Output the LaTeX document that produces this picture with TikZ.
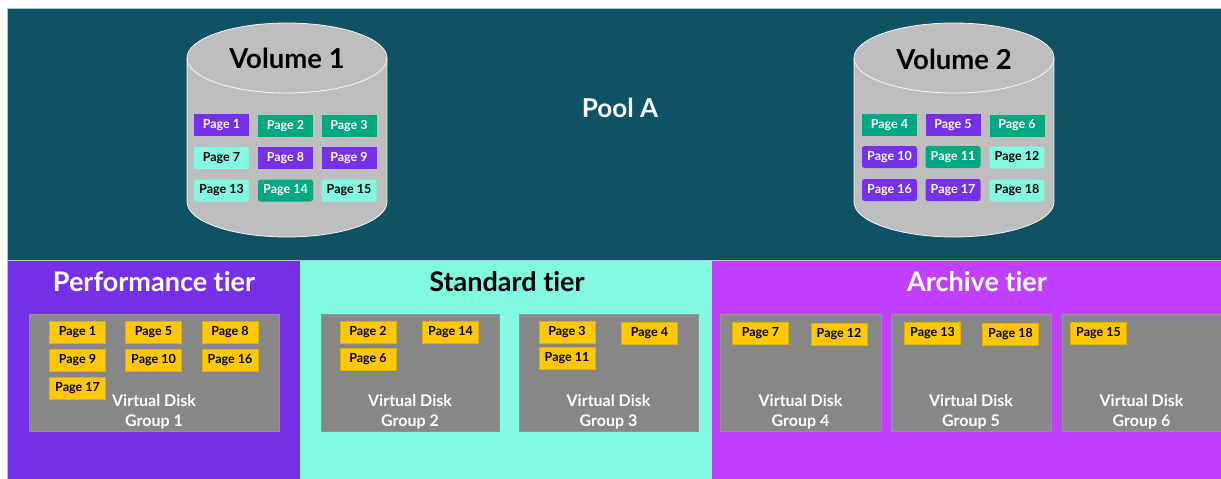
\documentclass[tikz,border=0pt]{standalone}
\usepackage{fontspec}
\setmainfont{Lato}[Ligatures=NoCommon]
\definecolor{poolteal}{HTML}{0E5265}
\definecolor{hpepurple}{HTML}{7630EA}
\definecolor{hpemint}{HTML}{82F9E1}
\definecolor{hpemagenta}{HTML}{C140FF}
\definecolor{hpegreen}{HTML}{01A982}
\definecolor{vdgray}{HTML}{878787}
\definecolor{cylgray}{HTML}{BEBEBE}
\definecolor{pageyellow}{HTML}{FFC800}
\definecolor{edgegray}{HTML}{B8C4C8}
\begin{document}
\begin{tikzpicture}[x=1pt,y=-1pt,
  fsz/.style={font=\bfseries\fontsize{#1}{#1}\selectfont},
  vpage/.style={minimum width=55pt, minimum height=22pt, inner sep=0pt, fsz=12.5},
  ppage/.style={vpage, fill=hpepurple, text=white},
  gpage/.style={vpage, fill=hpegreen, text=white},
  mpage/.style={vpage, fill=hpemint, text=black},
  rnd/.style={rounded corners=2.5pt},
  ypage/.style={minimum width=56pt, minimum height=22pt, inner sep=0pt, fsz=12.5,
    fill=pageyellow, draw=pageyellow!88!black, line width=0.4pt, text=black},
  vdg/.style={minimum height=117pt, inner sep=0pt, fill=vdgray, draw=vdgray!90!white, line width=0.4pt},
  vdglabel/.style={align=center, text=white, fsz=16, inner sep=0pt},
  tiertitle/.style={anchor=base, fsz=27, inner sep=0pt},
  cylside/.style={draw=white!85!cylgray, line width=0.8pt}
]
\useasboundingbox (0,0) rectangle (1221,479);

% storage pool and tiers
\fill[poolteal] (7,8) rectangle (1221,260);
\fill[hpepurple] (7,261) rectangle (300,479);
\fill[hpemint] (300,261) rectangle (712,479);
\fill[hpemagenta] (712,261) rectangle (1221,479);
\draw[edgegray, line width=0.8pt] (7,479) -- (7,8) -- (1221,8);
\draw[edgegray, line width=0.8pt] (7,260.5) -- (1221,260.5);

\node[anchor=base, text=white, fsz=26, inner sep=0pt] (pool) at (620,117) {Pool A};

% volume cylinders
\foreach \cx/\nm in {287/vola, 954/volb}{
  \fill[cylgray] (\cx-100,58) rectangle (\cx+100,202);
  \fill[cylgray] (\cx,202) ellipse [x radius=100, y radius=35];
  \draw[cylside] (\cx-100,58) -- (\cx-100,202)
     .. controls (\cx-100,221.3) and (\cx-55.2,237) .. (\cx,237)
     .. controls (\cx+55.2,237) and (\cx+100,221.3) .. (\cx+100,202) -- (\cx+100,58);
  \draw[cylside, fill=cylgray] (\cx,58) ellipse [x radius=100, y radius=35];
}
\node[anchor=base, fsz=27.5, inner sep=0pt] (vol1) at (287,68) {Volume 1};
\node[anchor=base, fsz=27.5, inner sep=0pt] (vol2) at (954,69) {Volume 2};

% pages of volume 1
\node[ppage] (v1p1) at (221.5,125) {Page 1};
\node[gpage] (v1p2) at (285.5,126) {Page 2};
\node[gpage] (v1p3) at (349,126) {Page 3};
\node[mpage] (v1p7) at (221.5,158) {Page 7};
\node[ppage] (v1p8) at (285.5,158) {Page 8};
\node[ppage] (v1p9) at (349,158) {Page 9};
\node[mpage,rnd] (v1p13) at (221.5,190.5) {Page 13};
\node[gpage,rnd] (v1p14) at (285.5,190.5) {Page 14};
\node[mpage,rnd] (v1p15) at (349,190.5) {Page 15};

% pages of volume 2
\node[gpage] (v2p4) at (889.5,125) {Page 4};
\node[ppage] (v2p5) at (953,125) {Page 5};
\node[gpage] (v2p6) at (1017,125.5) {Page 6};
\node[ppage,rnd] (v2p10) at (889.5,157) {Page 10};
\node[gpage,rnd] (v2p11) at (953,157) {Page 11};
\node[mpage,rnd] (v2p12) at (1017,157.5) {Page 12};
\node[ppage,rnd] (v2p16) at (889.5,190) {Page 16};
\node[ppage,rnd] (v2p17) at (953,190) {Page 17};
\node[mpage,rnd] (v2p18) at (1017,190.5) {Page 18};

% tier titles
\node[tiertitle, text=white] (perf) at (154,291) {Performance tier};
\node[tiertitle, text=black] (std) at (507,291) {Standard tier};
\node[tiertitle, text=white] (arch) at (977,291) {Archive tier};

% virtual disk groups
\node[vdg, minimum width=250pt] (g1) at (154,372.5) {};
\node[vdg, minimum width=178pt] (g2) at (410,372.5) {};
\node[vdg, minimum width=179pt] (g3) at (608.5,372.5) {};
\node[vdg, minimum width=161pt] (g4) at (800.5,372.5) {};
\node[vdg, minimum width=160pt] (g5) at (971,372.5) {};
\node[vdg, minimum width=159pt] (g6) at (1141.5,372.5) {};
\foreach \g/\n in {g1/1,g2/2,g3/3,g4/4,g5/5,g6/6}{
  \node[vdglabel, anchor=base] at ([yshift=-33.5pt]\g.center) {Virtual Disk};
  \node[vdglabel, anchor=base] at ([yshift=-54pt]\g.center) {Group \n};
}

% pages placed in the virtual disk groups
\node[ypage] (y1) at (77.5,332) {Page 1};
\node[ypage] (y5) at (153.5,332) {Page 5};
\node[ypage] (y8) at (230,332) {Page 8};
\node[ypage] (y9) at (77.5,360) {Page 9};
\node[ypage] (y10) at (153.5,360) {Page 10};
\node[ypage] (y16) at (230,360) {Page 16};
\node[ypage] (y17) at (77.5,388) {Page 17};

\node[ypage] (y2) at (368,332) {Page 2};
\node[ypage] (y14) at (450.5,332) {Page 14};
\node[ypage] (y6) at (368,359.5) {Page 6};

\node[ypage] (y3) at (567,332) {Page 3};
\node[ypage] (y4) at (649.5,333) {Page 4};
\node[ypage] (y11) at (567,358.5) {Page 11};

\node[ypage] (y7) at (760.5,333) {Page 7};
\node[ypage] (y12) at (839,334) {Page 12};
\node[ypage] (y13) at (932.5,333) {Page 13};
\node[ypage] (y18) at (1010.5,334) {Page 18};
\node[ypage] (y15) at (1098.5,333) {Page 15};
\end{tikzpicture}
\end{document}
